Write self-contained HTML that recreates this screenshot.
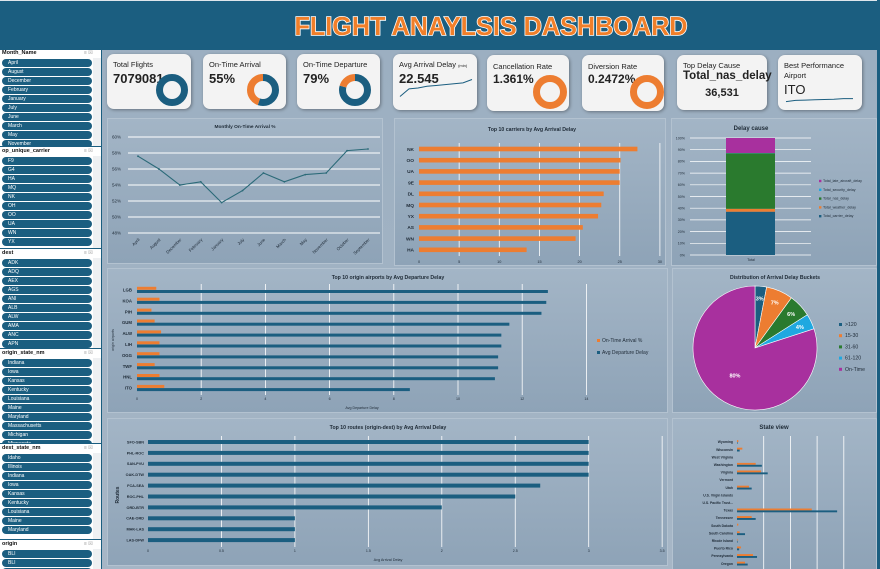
<!DOCTYPE html>
<html><head><meta charset="utf-8">
<style>
*{margin:0;padding:0;box-sizing:border-box}
html,body{width:880px;height:569px;overflow:hidden}
body{font-family:"Liberation Sans",sans-serif;background:#a0b2c4;position:relative}
#hdr{position:absolute;left:0;top:0;width:880px;height:50px;background:#1b5e80;border-top:1px solid #dfe6ec}
#side{position:absolute;left:0;top:50px;width:102px;height:519px;background:#fff;border-right:1px solid #1b5e80;overflow:hidden}
#main{position:absolute;left:102px;top:50px;width:776px;height:519px;background:linear-gradient(180deg,#9cafc1,#a6b6c6)}
#rstrip{position:absolute;left:877px;top:0;width:3px;height:569px;background:#1b5e80}
.kpi{position:absolute;background:#f3f3f3;border-radius:7px;box-shadow:1px 1px 3px rgba(0,0,0,.35);color:#222}
.kt{position:absolute;left:6px;top:6px;font-size:7.5px}
.kv{position:absolute;left:6px;top:17px;font-size:13px;font-weight:bold}
.card{position:absolute;background:linear-gradient(180deg,#a3b5c6,#8ea3b7);border:1px solid #b3c2d0}
.sl-blk{position:absolute;left:0;width:102px;overflow:hidden;border-top:1px solid #1b5e80;background:#fff}
.sl-h{position:absolute;left:2px;top:1px;font-size:5.5px;font-weight:bold;color:#111}
.sl-i{position:absolute;left:2px;width:90px;height:8px;border-radius:4px;background:#1b5e80;color:#fff;font-size:5px;line-height:8px;padding-left:6px}
.sl-sb{position:absolute;left:93px;width:8px;background:#eef0f2}
</style></head><body>
<div id="hdr">
<svg width="880" height="50">
<text x="491" y="34" text-anchor="middle" font-family="Liberation Sans" font-weight="bold" font-size="26" fill="#f07f2a" stroke="#fff" stroke-width="1.6" paint-order="stroke" textLength="393" lengthAdjust="spacingAndGlyphs">FLIGHT ANAYLSIS DASHBOARD</text>
</svg></div>
<div id="side"></div>
<div id="main"></div>
<div id="rstrip"></div>

<div class="card" style="left:107px;top:118px;width:276px;height:146px"></div>
<div class="card" style="left:394px;top:118px;width:272px;height:148px"></div>
<div class="card" style="left:671px;top:118px;width:206px;height:148px"></div>
<div class="card" style="left:107px;top:268px;width:561px;height:145px"></div>
<div class="card" style="left:672px;top:268px;width:205px;height:145px"></div>
<div class="card" style="left:107px;top:418px;width:561px;height:148px"></div>
<div class="card" style="left:672px;top:418px;width:205px;height:151px;border-bottom:none"></div>

<div class="kpi" style="left:107px;top:54px;width:84px;height:55px"><div class="kt">Total Flights</div><div class="kv">7079081</div></div>
<div class="kpi" style="left:203px;top:54px;width:83px;height:55px"><div class="kt">On-Time Arrival</div><div class="kv">55%</div></div>
<div class="kpi" style="left:297px;top:54px;width:83px;height:55px"><div class="kt">On-Time Departure</div><div class="kv">79%</div></div>
<div class="kpi" style="left:393px;top:54px;width:84px;height:56px"><div class="kt">Avg Arrival Delay <span style="font-size:4px">(min)</span></div><div class="kv">22.545</div></div>
<div class="kpi" style="left:487px;top:55px;width:82px;height:56px"><div class="kt" style="top:7px">Cancellation Rate</div><div class="kv" style="top:17px;font-size:12px">1.361%</div></div>
<div class="kpi" style="left:582px;top:55px;width:82px;height:56px"><div class="kt" style="top:7px">Diversion Rate</div><div class="kv" style="top:17px;font-size:12px">0.2472%</div></div>
<div class="kpi" style="left:677px;top:55px;width:90px;height:55px"><div class="kt" style="top:6px">Top Delay Cause</div><div class="kv" style="top:15px;font-size:11.5px">Total_nas_delay</div><div style="position:absolute;left:0;width:90px;top:32px;text-align:center;font-size:11px;font-weight:bold">36,531</div></div>
<div class="kpi" style="left:778px;top:55px;width:84px;height:55px"><div class="kt" style="top:6px;line-height:10px">Best Performance<br>Airport</div><div style="position:absolute;left:6px;top:27px;font-size:13px">ITO</div></div>

<svg id="ov" width="880" height="569" style="position:absolute;left:0;top:0;overflow:hidden"></svg>

<script>
// ---- data ----
const months=['April','August','December','February','January','July','June','March','May','November','October','September'];
const onTimePct=[57.6,56,54,54.4,51.8,53.3,55.5,54.4,55.3,55.5,58.3,58.5];
const lineTicks=[48,50,52,54,56,58,60];
const carriers=['NK','OO','UA','9E','DL','MQ','YX','AS','WN','HA'];
const carrierDelay=[27.2,25.1,25.0,25.0,23.0,22.7,22.3,20.4,19.5,13.4];
const carrierTicks=[0,5,10,15,20,25,30];
const causeNames=['Total_carrier_delay','Total_weather_delay','Total_nas_delay','Total_security_delay','Total_late_aircraft_delay'];
const causePct=[37,2.5,47.5,0.2,12.8];
const causeColors=['#1b5e80','#ed7d31','#2a7a2e','#1fa8e0','#a8309e'];
const causeTicks=[0,10,20,30,40,50,60,70,80,90,100];
const airports=['LGB','KOA','PIH','GUM','ALW','LIH','OGG','TWF','HNL','ITO'];
const airportDepDelay=[12.8,12.75,12.6,11.6,11.35,11.35,11.25,11.25,11.15,8.5];
const airportOnTime=[0.6,0.7,0.45,0.55,0.75,0.7,0.7,0.55,0.7,0.85];
const airportTicks=[0,2,4,6,8,10,12,14];
const buckets=['>120','15-30','31-60','61-120','On-Time'];
const bucketPct=[3,7,6,4,80];
const bucketColors=['#1b5e80','#ed7d31','#2a7a2e','#1fa8e0','#a8309e'];
const routes=['SFO-SBN','PHL-ROC','SAN-PVU','OAK-DTW','FCA-SEA','ROC-PHL','ORD-BTR','CAE-ORD','MHK-LAS','LAS-DFW'];
const routeDelay=[3,3,3,3,2.67,2.5,2.0,1,1,1];
const routeTicks=[0,0.5,1,1.5,2,2.5,3,3.5];
const states=['Wyoming','Wisconsin','West Virginia','Washington','Virginia','Vermont','Utah','U.S. Virgin Islands','U.S. Pacific Trust...','Texas','Tennessee','South Dakota','South Carolina','Rhode Island','Puerto Rico','Pennsylvania','Oregon','Oklahoma'];
const stateOrange=[0.05,0.2,0,0.7,0.9,0,0.45,0,0,2.8,0.55,0.05,0.1,0.02,0.15,0.6,0.3,0.05];
const stateBlue=[0.02,0.1,0,0.93,1.15,0,0.55,0,0,3.75,0.7,0,0.3,0.02,0.08,0.75,0.4,0.2];
const kpiDonuts=[[100],[55,45],[79,21]];
const avgDelaySpark=[10,19,20,22,23,24,25,26,30];
const bestSpark=[4,6,6.5,7,7.5,8,9,9];
const slicers=[
 {h:'Month_Name',y:52,items:['April','August','December','February','January','July','June','March','May','November']},
 {h:'op_unique_carrier',y:150,items:['F9','G4','HA','MQ','NK','OH','OO','UA','WN','YX']},
 {h:'dest',y:252,items:['ADK','ADQ','AEX','AGS','ANI','ALB','ALW','AMA','ANC','APN']},
 {h:'origin_state_nm',y:352,items:['Indiana','Iowa','Kansas','Kentucky','Louisiana','Maine','Maryland','Massachusetts','Michigan','Minnesota']},
 {h:'dest_state_nm',y:447,items:['Idaho','Illinois','Indiana','Iowa','Kansas','Kentucky','Louisiana','Maine','Maryland']},
 {h:'origin',y:543,items:['BLI','BLI','BLV']}
];
// ---- helpers ----
const NS='http://www.w3.org/2000/svg';
const ov=document.getElementById('ov');
function mk(tag,attrs,txt){const e=document.createElementNS(NS,tag);for(const k in attrs)e.setAttribute(k,attrs[k]);if(txt!==undefined)e.textContent=txt;ov.appendChild(e);return e;}
function txt(x,y,s,size,anchor,extra){const e=mk('text',Object.assign({x:x,y:y,'font-size':size,'text-anchor':anchor||'start','font-family':'Liberation Sans',fill:'#1e2a36'},extra||{}),s);return e;}

// ---- sidebar ----
const side=document.getElementById('side');
slicers.forEach((s,si)=>{
  const top=s.y-50-4;
  const next=si<slicers.length-1?slicers[si+1].y-50-4:519;
  const blk=document.createElement('div');blk.className='sl-blk';blk.style.top=top+'px';blk.style.height=(next-top)+'px';
  
  
  side.appendChild(blk);
  const h=document.createElement('div');h.className='sl-h';h.textContent=s.h;
  
  
  blk.appendChild(h);
  const ic=document.createElement('div');ic.style.cssText='position:absolute;left:84px;top:1px;font-size:5px;color:#999';ic.textContent='≡ ☒';
  
  
  blk.appendChild(ic);
  const sb=document.createElement('div');sb.className='sl-sb';sb.style.top='9px';sb.style.height=(next-top-10)+'px';
  
  
  blk.appendChild(sb);
  s.items.forEach((it,i)=>{
    const d=document.createElement('div');d.className='sl-i';d.style.top=(10+i*9)+'px';d.textContent=it;
    
    
    blk.appendChild(d);
  });
});

// ---- KPI donuts ----
[[172,90],[263,90],[355,90]].forEach((c,k)=>{
  const r=12.5,C=2*Math.PI*r;let acc=0;
  kpiDonuts[k].forEach((v,j)=>{
    const col=j===0?'#1b5e80':'#ed7d31';
    const e=mk('circle',{cx:c[0],cy:c[1],r:r,fill:'none',stroke:col,'stroke-width':7,'stroke-dasharray':(v/100*C)+' '+C,'stroke-dashoffset':-acc/100*C,transform:'rotate(-90 '+c[0]+' '+c[1]+')'});
    
    
    acc+=v;
  });
});
[[550,92],[647,92]].forEach(c=>{
  const e=mk('circle',{cx:c[0],cy:c[1],r:13.5,fill:'none',stroke:'#ed7d31','stroke-width':7});
  
  
});
function spark(vals,x0,x1,ybase,scale,name){
  const pts=vals.map((v,i)=>(x0+i*(x1-x0)/(vals.length-1))+','+(ybase-v*scale)).join(' ');
  const e=mk('polyline',{points:pts,fill:'none',stroke:'#1b5e80','stroke-width':1});
  
  
}
spark(avgDelaySpark,400,472,105,0.85,'avg-delay-sparkline');
spark(bestSpark,786,853,104,0.6,'best-airport-sparkline');

// ---- Line chart ----
const lx=i=>138+i*(368-138)/(months.length-1);
const ly=v=>233-(v-48)*8;
{const t=txt(245,128,'Monthly On-Time Arrival %',4.8,'middle',{'font-weight':'bold'});}
lineTicks.forEach(v=>{
  const g=mk('line',{x1:128,x2:380,y1:ly(v),y2:ly(v),stroke:'#fff','stroke-width':0.9});
  
  const t=txt(121,ly(v)+1.6,v+'%',4.5,'end');
  
});
{const e=mk('polyline',{points:onTimePct.map((v,i)=>lx(i)+','+ly(v)).join(' '),fill:'none',stroke:'#2b6a78','stroke-width':1.1});
}
onTimePct.forEach((v,i)=>{
  const p=mk('circle',{cx:lx(i),cy:ly(v),r:0.9,fill:'#2b6a78'});
  
  const t=txt(lx(i)+2,240,months[i],4.3,'end',{transform:'rotate(-45 '+(lx(i)+2)+' 240)'});
  
});

// ---- Carriers ----
const cx=v=>419+v*8.03, cy=i=>149+i*11.2;
{const t=txt(532,131,'Top 10 carriers by Avg Arrival Delay',5.2,'middle',{'font-weight':'bold'});}
carrierTicks.forEach(v=>{
  if(v>0){const g=mk('line',{x1:cx(v),x2:cx(v),y1:143,y2:256,stroke:'#fff','stroke-width':0.8});}
  const t=txt(cx(v),263,String(v),3.8,'middle');
});
carriers.forEach((c,i)=>{
  const b=mk('rect',{x:cx(0),y:cy(i)-2.3,width:cx(carrierDelay[i])-cx(0),height:4.6,fill:'#ed7d31'});
  
  const t=txt(414,cy(i)+1.8,c,4.8,'end',{'font-weight':'bold'});
});

// ---- Delay cause ----
const dy=p=>255-p*1.17;
{const t=txt(751,130,'Delay cause',6,'middle',{'font-weight':'bold'});}
causeTicks.forEach(v=>{
  const g=mk('line',{x1:690,x2:811,y1:dy(v),y2:dy(v),stroke:'#fff','stroke-width':0.7});
  const t=txt(685,dy(v)+1.3,v+'%',3.6,'end');
});
{let acc=0;causePct.forEach((p,i)=>{
  const r=mk('rect',{x:726,y:dy(acc+p),width:49,height:p*1.17,fill:causeColors[i]});
  
  acc+=p;
});}
{const t=txt(751,261,'Total',3.6,'middle');}
causeNames.slice().reverse().forEach((n,k)=>{
  const i=causeNames.length-1-k;const y=182+k*8.8;
  const s=mk('rect',{x:819,y:y-2.2,width:2.4,height:2.4,fill:causeColors[i]});
  const t=txt(823,y,n,3.6,'start');
});

// ---- Origin airports ----
const ox=v=>137+v*32.1, oy=i=>290+i*10.9;
{const t=txt(388,279,'Top 10 origin airports by Avg Departure Delay',5.2,'middle',{'font-weight':'bold'});}
airportTicks.forEach(v=>{
  if(v>0){const g=mk('line',{x1:ox(v),x2:ox(v),y1:284,y2:395,stroke:'#fff','stroke-width':0.8});}
  const t=txt(ox(v),400,String(v),3.6,'middle');
});
airports.forEach((a,i)=>{
  const o=mk('rect',{x:ox(0),y:oy(i)-3.2,width:airportOnTime[i]*32.1,height:3,fill:'#ed7d31'});
  const b=mk('rect',{x:ox(0),y:oy(i),width:ox(airportDepDelay[i])-ox(0),height:3,fill:'#1b5e80'});
  const t=txt(132,oy(i)+1.5,a,4.3,'end',{'font-weight':'bold'});
});
{const t=txt(362,409,'Avg Departure Delay',3.6,'middle');
const t2=txt(114,340,'origin airports',3.6,'middle',{transform:'rotate(-90 114 340)'});}
[['On-Time Arrival %','#ed7d31',342],['Avg Departure Delay','#1b5e80',354]].forEach(l=>{
  const s=mk('rect',{x:597,y:l[2]-3,width:3,height:3,fill:l[1]});
  const t=txt(602,l[2],l[0],5,'start');
});

// ---- Pie ----
{const t=txt(775,279,'Distribution of Arrival Delay Buckets',5.2,'middle',{'font-weight':'bold'});}
{const pcx=755,pcy=348,R=62;let acc=0;const tot=bucketPct.reduce((a,b)=>a+b,0);
bucketPct.forEach((p,i)=>{
  const a0=acc/tot*2*Math.PI-Math.PI/2;acc+=p;const a1=acc/tot*2*Math.PI-Math.PI/2;
  const large=(a1-a0)>Math.PI?1:0;
  const d='M'+pcx+','+pcy+' L'+(pcx+R*Math.cos(a0))+','+(pcy+R*Math.sin(a0))+' A'+R+','+R+' 0 '+large+' 1 '+(pcx+R*Math.cos(a1))+','+(pcy+R*Math.sin(a1))+' Z';
  const s=mk('path',{d:d,fill:bucketColors[i],stroke:'#fff','stroke-width':0.6});
  const am=(a0+a1)/2;const rr=p>50?0.55*R:0.8*R;
  const t=txt(pcx+rr*Math.cos(am),pcy+rr*Math.sin(am)+2,p+'%',5.5,'middle',{fill:'#fff','font-weight':'bold'});
});}
buckets.forEach((b,i)=>{
  const y=326+i*11.2;
  const s=mk('rect',{x:839,y:y-3,width:3,height:3,fill:bucketColors[i]});
  const t=txt(845,y,b,5.2,'start');
});

// ---- Routes ----
const rx=v=>148+v*146.9, ry=i=>442+i*10.9;
{const t=txt(388,429,'Top 10 routes (origin-dest) by Avg Arrival Delay',5.2,'middle',{'font-weight':'bold'});}
routeTicks.forEach(v=>{
  if(v>0){const g=mk('line',{x1:rx(v),x2:rx(v),y1:436,y2:547,stroke:'#fff','stroke-width':0.8});}
  const t=txt(rx(v),552,String(v),3.6,'middle');
});
routes.forEach((r,i)=>{
  const b=mk('rect',{x:rx(0),y:ry(i)-2,width:rx(routeDelay[i])-rx(0),height:4,fill:'#1b5e80'});
  const t=txt(144,ry(i)+1.4,r,3.8,'end',{'font-weight':'bold'});
});
{const t=txt(388,561,'Avg Arrival Delay',3.8,'middle');
const t2=txt(119,495,'Routes',5,'middle',{transform:'rotate(-90 119 495)','font-weight':'bold'});}

// ---- State view ----
const sx=v=>737+v*26.7, sy=i=>442+i*7.6;
{const t=txt(774,429,'State view',6,'middle',{'font-weight':'bold'});}
[1,2,3,4].forEach(v=>{const g=mk('line',{x1:sx(v),x2:sx(v),y1:436,y2:569,stroke:'#fff','stroke-width':0.8});});
states.forEach((s,i)=>{
  const o=mk('rect',{x:sx(0),y:sy(i)-1.9,width:stateOrange[i]*26.7,height:1.9,fill:'#ed7d31'});
  const b=mk('rect',{x:sx(0),y:sy(i),width:stateBlue[i]*26.7,height:1.9,fill:'#1b5e80'});
  const t=txt(733,sy(i)+1.2,s,3.4,'end',{'font-weight':'bold'});
});
</script>
</body></html>
